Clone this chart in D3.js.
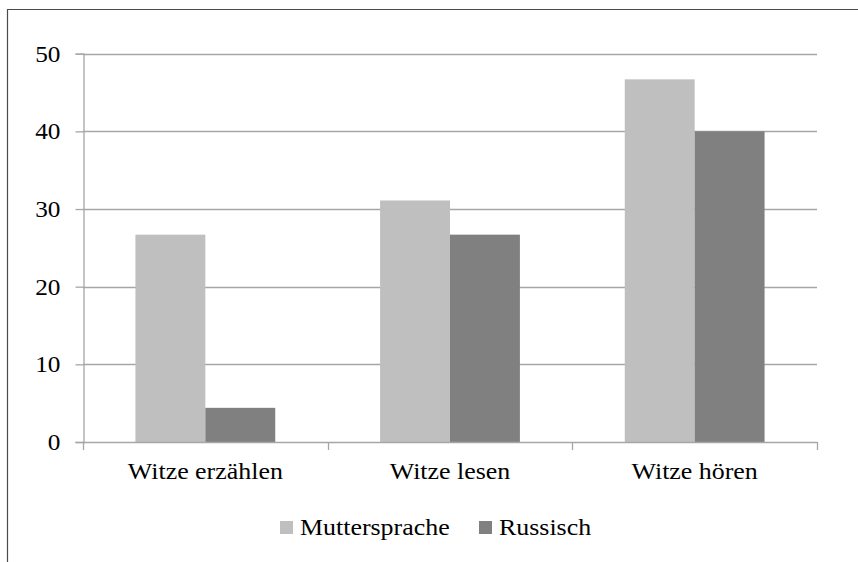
<!DOCTYPE html>
<html>
<head>
<meta charset="utf-8">
<script src="https://cdn.jsdelivr.net/npm/d3@7"></script>
<style>
  html, body { margin: 0; padding: 0; background: #fff; }
  svg { display: block; }
</style>
</head>
<body>
<svg id="chart" width="858" height="562"></svg>
<script>
const categories = ["Witze erzählen", "Witze lesen", "Witze hören"];
const seriesNames = ["Muttersprache", "Russisch"];
const muttersprache = [26.7, 31.1, 46.7];
const russisch = [4.4, 26.7, 40.0];
const yTicks = [0, 10, 20, 30, 40, 50];
const colors = ["#bfbfbf", "#808080"];

(function () {
const FONT = "'Liberation Serif', 'Times New Roman', serif";
const FS = 24, SX = 1.08;
const seriesValues = [muttersprache, russisch];
const svg = d3.select("#chart");

// stretched text helper (reference text is slightly wide)
function stretch(sel, sx) {
  sel.attr("transform", function () {
    const x = +this.getAttribute("x") || 0;
    return `translate(${x},0) scale(${sx},1) translate(${-x},0)`;
  });
}

// chart frame (cropped: only left and top visible)
svg.append("line").attr("x1", 7.5).attr("x2", 7.5).attr("y1", 9.5).attr("y2", 562)
  .attr("stroke", "#4a4a4a").attr("stroke-width", 1.2);
svg.append("line").attr("x1", 7).attr("x2", 858).attr("y1", 9.5).attr("y2", 9.5)
  .attr("stroke", "#4a4a4a").attr("stroke-width", 1.2);

const pLeft = 83, pRight = 817, pTop = 53.7, pBottom = 442;

const y = d3.scaleLinear().domain([0, 50]).range([pBottom, pTop]);
const x0 = d3.scaleBand().domain(categories).range([pLeft, pRight]).padding(0);
const x1 = d3.scaleBand().domain(seriesNames).range([0, x0.bandwidth()])
  .paddingInner(0).paddingOuter(0.75);

// gridlines
svg.append("g").selectAll("line").data(yTicks.filter(d => d > 0)).join("line")
  .attr("x1", pLeft).attr("x2", pRight)
  .attr("y1", d => Math.round(y(d)) + 0.5).attr("y2", d => Math.round(y(d)) + 0.5)
  .attr("stroke", "#a6a6a6").attr("stroke-width", 1.3);

// bars
const groups = svg.append("g").selectAll("g").data(categories).join("g")
  .attr("transform", d => `translate(${x0(d)},0)`);
groups.selectAll("rect")
  .data((c, i) => seriesNames.map((s, j) => ({ s, v: seriesValues[j][i], j })))
  .join("rect")
  .attr("x", d => x1(d.s))
  .attr("width", x1.bandwidth())
  .attr("y", d => y(d.v))
  .attr("height", d => y(0) - y(d.v))
  .attr("fill", d => colors[d.j]);

// y axis
const yAxis = svg.append("g").attr("transform", `translate(${pLeft + 0.5},0)`)
  .call(d3.axisLeft(y).tickValues(yTicks).tickSize(8).tickPadding(15).tickFormat(d3.format("d")));
yAxis.attr("font-family", null).attr("font-size", null);
yAxis.select(".domain").attr("stroke", "#a6a6a6").attr("stroke-width", 1.3);
yAxis.selectAll(".tick line").attr("stroke", "#a6a6a6").attr("stroke-width", 1.3);
yAxis.selectAll("text")
  .style("font-family", FONT).style("font-size", "23px").attr("fill", "#000");
stretch(yAxis.selectAll("text"), 1.1);

// x axis: ticks at category boundaries
const xAxisG = svg.append("g");
xAxisG.append("line").attr("x1", pLeft).attr("x2", pRight)
  .attr("y1", pBottom + 0.5).attr("y2", pBottom + 0.5)
  .attr("stroke", "#a6a6a6").attr("stroke-width", 1.3);
const bounds = categories.map(c => x0(c)).concat([x0(categories[categories.length - 1]) + x0.bandwidth()]);
xAxisG.selectAll(".bt").data(bounds).join("line").attr("class", "bt")
  .attr("x1", d => Math.round(d) + 0.5).attr("x2", d => Math.round(d) + 0.5)
  .attr("y1", pBottom).attr("y2", pBottom + 8)
  .attr("stroke", "#a6a6a6").attr("stroke-width", 1.3);
const catText = xAxisG.selectAll("text").data(categories).join("text")
  .attr("x", d => x0(d) + x0.bandwidth() / 2)
  .attr("y", 479.5)
  .attr("text-anchor", "middle")
  .style("font-family", FONT).style("font-size", FS + "px")
  .attr("fill", "#000")
  .text(d => d);
stretch(catText, SX);

// legend
const legendItems = [
  { name: seriesNames[0], color: colors[0], x: 280 },
  { name: seriesNames[1], color: colors[1], x: 479 }
];
const lg = svg.append("g");
lg.selectAll("rect").data(legendItems).join("rect")
  .attr("x", d => d.x).attr("y", 521).attr("width", 13).attr("height", 13)
  .attr("fill", d => d.color);
const lgText = lg.selectAll("text").data(legendItems).join("text")
  .attr("x", d => d.x + 20).attr("y", 535)
  .style("font-family", FONT).style("font-size", FS + "px")
  .attr("fill", "#000")
  .text(d => d.name);
stretch(lgText, SX);
})();
</script>
</body>
</html>
